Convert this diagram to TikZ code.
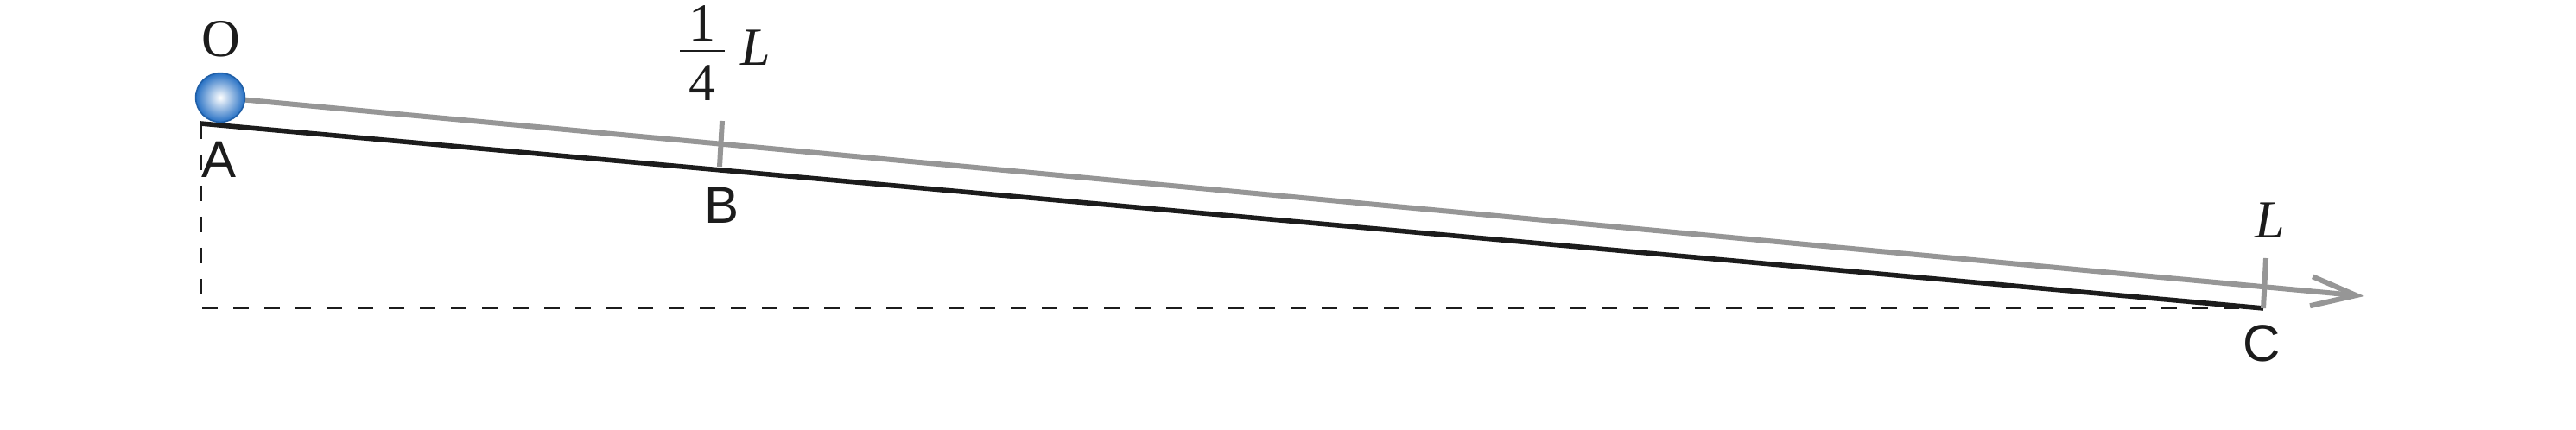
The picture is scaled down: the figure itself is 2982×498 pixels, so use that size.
\documentclass[tikz,border=0pt]{standalone}
\usepackage{fontspec}
\setmainfont{Liberation Serif}
\newfontfamily\labelsans{Liberation Sans}
\usetikzlibrary{arrows.meta}
\definecolor{rodgray}{RGB}{150,150,150}
\definecolor{ballblue}{RGB}{38,112,196}
\definecolor{inkblack}{RGB}{28,28,28}
\tikzset{
  guide/.style={draw=inkblack, line width=0.75pt, dash pattern=on 4.5pt off 4.5pt},
  slope/.style={draw=inkblack, line width=1.4pt},
  rod/.style={draw=rodgray, line width=1.5pt},
  tick/.style={draw=rodgray, line width=1.5pt},
  ptlabel/.style={inner sep=0pt, font=\labelsans\fontsize{15}{18}\selectfont, text=inkblack},
  serlabel/.style={inner sep=0pt, font=\fontsize{15.5}{18}\selectfont, text=inkblack}
}
\begin{document}
\begin{tikzpicture}[x=0.25pt,y=-0.25pt]
\useasboundingbox (0,0) rectangle (2982,498);
\coordinate (Apt) at (232,143);
\coordinate (Cpt) at (2620,357);
\coordinate (Corner) at (232,357);
\coordinate (Oc) at (255,113);
\coordinate (Tip) at (2737,343);
\coordinate (Btop) at (836,140);
\coordinate (Bbot) at (833,193);
\coordinate (Ctop) at (2623,299);
\coordinate (Cbot) at (2620,357);
\coordinate (barL) at (787,59);
\coordinate (barR) at (839,59);
% dashed guides
\draw[guide] (Apt) -- (Corner) -- (Cpt);
% incline
\draw[slope] (Apt) -- (Cpt);
% rod with arrow
\draw[rod, -{Straight Barb[length=13pt,width=8.5pt]}] (Oc) -- (Tip);
% ticks
\draw[tick] (Btop) -- (Bbot);
\draw[tick] (Ctop) -- (Cbot);
% ball
\shade[inner color=white, outer color=ballblue] (Oc) circle[radius=7.1pt];
\draw[ballblue!85!black, line width=0.4pt] (Oc) circle[radius=7.1pt];
% labels
\node[serlabel] (O) at (256,45) {O};
\node[ptlabel] (A) at (254,185) {A};
\node[ptlabel] (B) at (835,238) {B};
\node[ptlabel] (C) at (2618,398) {C};
\node[serlabel, anchor=base] (num) at (813,48) {1};
\draw[inkblack, line width=0.5pt] (barL) -- (barR);
\node[serlabel, anchor=base] (den) at (813,117) {4};
\node[serlabel, anchor=base] (Lq) at (875,76) {\textit{L}};
\node[serlabel, anchor=base] (Lf) at (2628,276) {\textit{L}};
\end{tikzpicture}
\end{document}
